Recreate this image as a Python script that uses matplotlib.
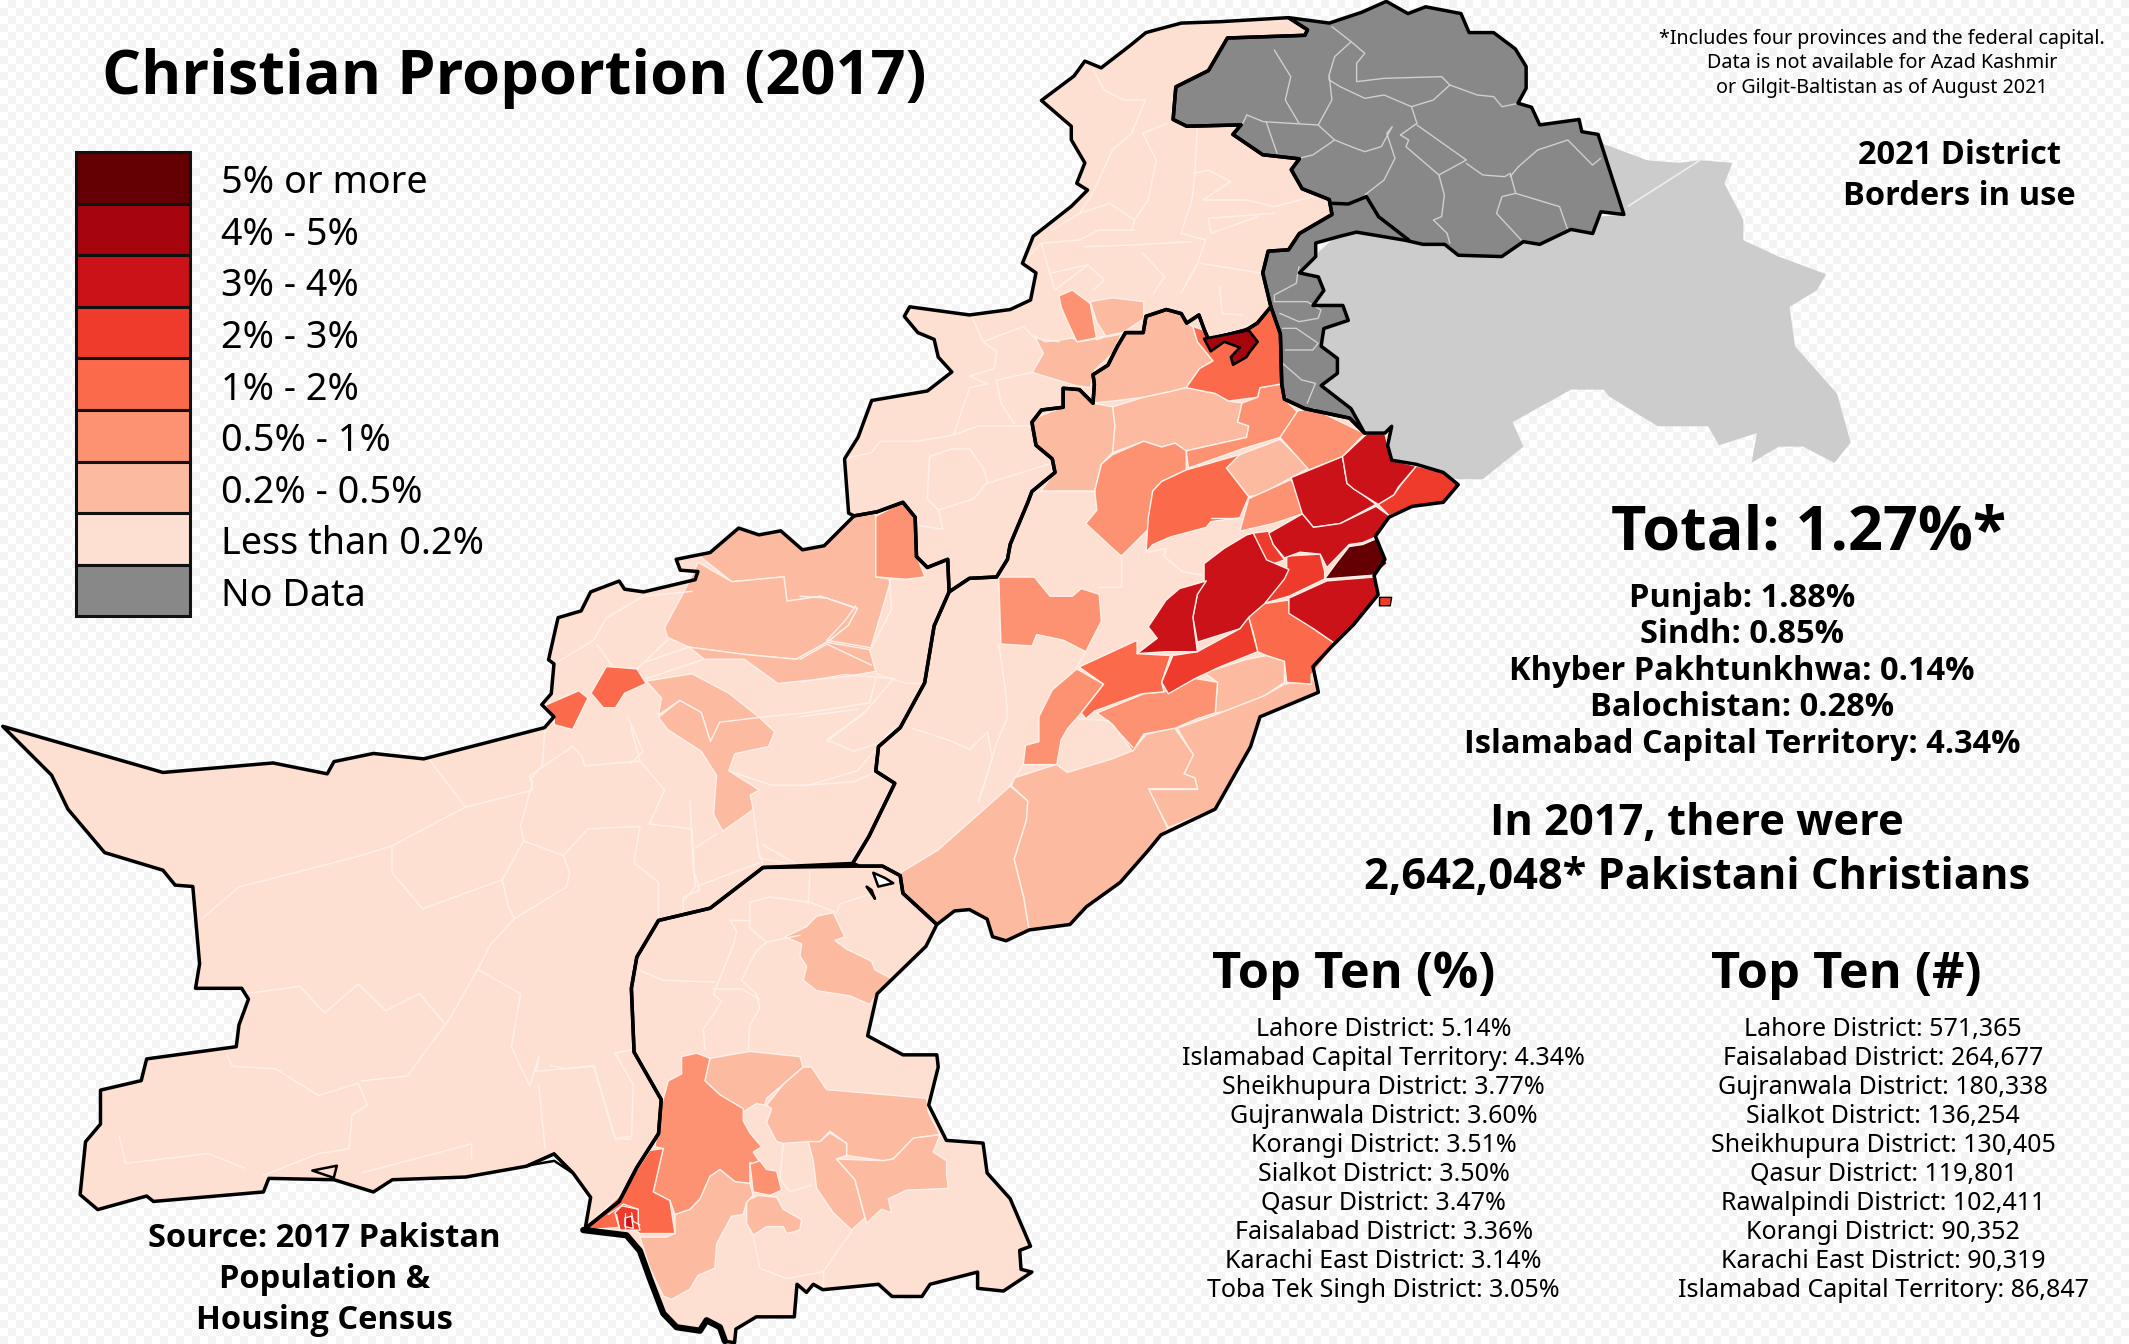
import numpy as np
import matplotlib
matplotlib.use("Agg")
import matplotlib.pyplot as plt
import matplotlib.font_manager as fm
import matplotlib.patheffects as pe
from matplotlib.patches import Polygon, Rectangle

plt.rcParams['font.family'] = ['Noto Sans', 'DejaVu Sans']

BOLD_FAMILY = None
for name in ("Noto Sans", "Open Sans", "Lato", "Roboto", "Inter"):
    if any(f.name == name and f.weight in (600, 700, 800, "bold", "semibold") for f in fm.fontManager.ttflist):
        BOLD_FAMILY = name
        break

# ---------- colours / legend ----------
legend_labels = ["5% or more", "4% - 5%", "3% - 4%", "2% - 3%", "1% - 2%", "0.5% - 1%",
                 "0.2% - 0.5%", "Less than 0.2%", "No Data"]
C5, C4, C3, C2, C1, C05, C02, C0, CN = ("#640003", "#a6050e", "#cb1218", "#ef3b2c", "#fb6a4a",
                                        "#fc9272", "#fcbba1", "#fee0d2", "#888888")
legend_colors = [C5, C4, C3, C2, C1, C05, C02, C0, CN]
CK = "#cccccc"
LINE = "#fff1ea"
GLINE = "#cfcfcf"

def z2(p): return [(589.2 + x / 3.041, 184.1 + y / 3.548) for x, y in p]
def z3(p): return [(405 + x / 4.073, 589.2 + y / 3.913) for x, y in p]
def z4(p): return [(736.5 + x / 2.475, y / 4.073) for x, y in p]
def z5(p): return [(x / 2.217, 353.5 + y / 2.801) for x, y in p]

# ---------- province outlines ----------
balochistan = [(2,535),(120,569),(201,562),(241,570),(246,561),(275,555),(312,559),(401,536),(408,528),(399,519),(406,511),(408,489),(404,486),(411,455),(428,450),(435,436),(456,428),(460,434),(474,436),(512,427),(514,421),(501,420),(498,412),(523,407),(544,389),(559,394),(575,391),(591,405),(607,402),(629,380),(646,377),(665,370),(674,381),(675,410),(683,418),(698,412),(699,436),(688,461),(681,503),(663,536),(647,550),(645,568),(659,577),(640,616),(628,636),(562,639),(523,669),(485,678),(469,705),(465,728),(467,775),(487,810),(485,835),(469,860),(456,885),(431,905),(435,882),(422,864),(408,850),(388,859),(343,867),(289,869),(275,878),(246,869),(198,868),(194,878),(113,885),(108,881),(72,891),(59,880),(63,841),(74,828),(74,803),(104,796),(108,780),(174,771),(176,755),(183,736),(178,728),(144,728),(147,710),(142,653),(129,652),(120,641),(77,628),(50,596),(38,571)]
sindh = [(562,639),(633,638),(650,638),(663,645),(665,658),(690,681),(682,697),(646,732),(639,763),(665,777),(690,777),(691,786),(684,814),(697,840),(724,842),(727,864),(744,883),(759,918),(751,921),(752,935),(760,937),(739,951),(720,949),(720,937),(685,946),(679,955),(657,955),(647,946),(606,950),(599,946),(594,952),(587,946),(585,970),(557,970),(542,979),(541,989),(534,988),(530,978),(520,972),(515,980),(498,978),(488,967),(479,942),(471,921),(461,910),(431,905),(456,885),(469,860),(485,835),(487,810),(467,775),(465,728),(469,705),(485,678),(523,669)]
punjab = [(699,436),(714,426),(734,425),(742,412),(744,401),(757,370),(760,362),(777,348),(775,338),(763,328),(760,311),(767,302),(783,300),(783,286),(795,287),(805,297),(806,283),(805,276),(816,269),(823,255),(829,245),(842,245),(844,233),(859,228),(870,231),(874,238),(883,232),(887,243),(890,250),(918,243),(926,238),(936,226),(943,246),(944,283),(946,294),(961,301),(994,308),(1005,319),(1020,319),(1025,314),(1022,328),(1025,339),(1043,342),(1063,348),(1074,357),(1063,370),(1040,373),(1023,381),(1013,395),(1020,412),(1012,424),(1015,438),(997,460),(980,477),(967,491),(971,510),(928,528),(921,550),(895,596),(855,615),(846,626),(825,650),(800,668),(788,681),(758,685),(741,693),(731,690),(727,677),(714,670),(703,671),(690,681),(665,658),(663,645),(650,638),(633,638),(628,636),(640,616),(659,577),(645,568),(647,550),(663,536),(681,503),(688,461)]
kp = [(936,226),(930,201),(934,185),(949,184),(957,172),(981,158),(979,147),(959,139),(951,125),(957,117),(930,114),(908,99),(914,92),(874,93),(864,88),(866,64),(890,52),(904,28),(961,26),(963,22),(949,13),(898,16),(870,17),(844,24),(833,33),(811,50),(799,45),(791,56),(767,74),(789,93),(789,103),(799,120),(793,135),(801,140),(789,152),(761,174),(753,194),(763,201),(759,221),(744,228),(714,232),(670,226),(666,233),(676,245),(688,250),(691,263),(701,274),(683,288),(642,295),(632,322),(622,338),(625,378),(629,380),(646,377),(665,370),(674,381),(675,410),(683,418),(698,412),(699,436),(714,426),(734,425),(742,412),(744,401),(757,370),(760,362),(777,348),(775,338),(763,328),(760,311),(767,302),(783,300),(783,286),(795,287),(805,297),(806,283),(805,276),(816,269),(823,255),(829,245),(842,245),(844,233),(859,228),(870,231),(874,238),(883,232),(887,243),(890,250),(918,243),(926,238)]
no_data = [(949,13),(979,17),(1003,9),(1021,1),(1037,10),(1050,5),(1076,10),(1082,24),(1100,24),(1116,36),(1124,49),(1124,65),(1118,76),(1128,79),(1134,92),(1163,88),(1165,97),(1177,99),(1196,158),(1179,156),(1173,172),(1157,169),(1134,180),(1122,178),(1106,189),(1074,188),(1064,180),(1048,180),(1035,177),(999,171),(987,174),(969,179),(969,189),(957,201),(971,204),(975,214),(967,225),(989,225),(993,236),(975,242),(973,255),(985,264),(985,275),(973,284),(995,301),(1005,319),(994,308),(961,301),(946,294),(944,283),(943,246),(936,226),(930,201),(934,185),(949,184),(957,172),(981,158),(979,147),(959,139),(951,125),(957,117),(930,114),(908,99),(914,92),(874,93),(864,88),(866,64),(890,52),(904,28),(961,26),(963,22)]
kashmir = [(1181,106),(1213,118),(1237,120),(1252,118),(1276,120),(1270,135),(1284,162),(1284,177),(1310,189),(1345,202),(1338,214),(1318,226),(1322,255),(1353,290),(1363,326),(1351,341),(1328,329),(1310,329),(1290,341),(1294,319),(1266,328),(1258,314),(1221,314),(1185,292),(1181,287),(1157,287),(1114,311),(1122,329),(1092,353),(1075,353),(1040,350),(1005,319),(960,300),(955,200),(1000,160),(1064,170),(1196,158),(1177,99)]
kashmir_line = [(1199,152),(1252,118)]
gb_ajk_line = z4([(605,610),(635,612),(668,590),(690,650),(745,720)])
karachi_coast = z3([(100,1240),(230,1255),(270,1300),(300,1380),(340,1480),(380,1520),(450,1530),(470,1500),(510,1520),(525,1560)])
lakes = [z3([(970,210),(985,250),(1030,240),(1005,225)]), z3([(950,250),(975,285),(965,260)])]
gwadar_lagoon = [z5([(860,1415),(905,1390),(935,1430),(905,1405)])]
ormara_island = [z5([(510,1425),(550,1415),(545,1440)])]
narowal_enclave = [z2([(1298,908),(1325,908),(1322,930),(1298,930)])]

# ---------- district classes, by share of Christians ----------
districts_5plus = [z2([(1260,770),(1290,755),(1315,820),(1285,850),(1175,860),(1200,820),(1230,775)])]
districts_4_5 = [z2([(905,232),(1005,210),(1025,240),(1005,270),(1000,280),(970,300),(965,280),(985,255),(950,240),(920,265)])]
districts_3_4 = [
    z2([(1100,595),(1215,540),(1225,610),(1290,665),(1210,715),(1150,725),(1125,690)]),
    z2([(1215,540),(1270,480),(1310,480),(1325,550),(1380,565),(1340,620),(1330,640),(1295,665),(1240,625),(1225,610)]),
    z2([(1125,690),(1150,725),(1210,715),(1290,670),(1320,695),(1290,750),(1260,765),(1230,770),(1180,830),(1165,795),(1120,790),(1085,805),(1060,770),(1050,740)]),
    z2([(1095,910),(1180,865),(1285,855),(1295,900),(1240,980),(1200,1030),(1150,990),(1095,950)]),
    z2([(1000,745),(1015,740),(1045,810),(1095,835),(1085,860),(1040,925),(1005,960),(985,990),(890,1025),(880,960),(890,900),(905,870),(905,820),(950,780)]),
    z2([(910,865),(890,900),(880,960),(890,1050),(820,1050),(755,1055),(800,1015),(780,985),(820,915),(850,885)]),
]
districts_2_3 = [
    z2([(1380,565),(1440,580),(1475,615),(1440,660),(1370,670),(1320,695),(1295,665),(1330,640),(1345,615)]),
    z2([(1015,740),(1050,735),(1060,770),(1085,810),(1050,825),(1020,760)]),
    z2([(835,1060),(890,1050),(985,990),(1005,960),(1025,1050),(940,1090),(885,1120),(825,1160),(810,1130)]),
    z2([(1090,800),(1165,795),(1175,840),(1175,860),(1095,905),(1035,925),(1090,840)]),
    z3([(195,1190),(220,1165),(265,1180),(265,1220),(270,1240),(210,1240)]),
]
districts_1_2 = [
    z2([(880,200),(905,210),(915,235),(1025,190),(1055,155),(1075,220),(1080,350),(1030,360),(1025,385),(960,395),(930,375),(865,360),(895,310),(925,290),(890,240)]),
    z2([(865,575),(985,535),(955,570),(1005,645),(985,700),(920,710),(910,725),(830,750),(790,770),(775,790),(780,700),(790,630),(810,605)]),
    z2([(1035,925),(1095,915),(1100,950),(1150,990),(1200,1030),(1145,1110),(1145,1135),(1090,1130),(1085,1075),(1045,1060),(1025,1050),(1015,1000),(1005,960)]),
    z2([(755,1020),(755,1055),(830,1060),(810,1130),(815,1155),(765,1160),(660,1205),(640,1225),(630,1210),(680,1135),(625,1090)]),
    z5([(890,465),(945,435),(960,450),(935,515),(905,505),(905,490)]),
    z5([(990,385),(1040,390),(1055,420),(1020,440),(1005,470),(985,470),(965,440)]),
    z3([(340,1005),(310,1130),(360,1155),(375,1250),(270,1250),(240,1230),(100,1240),(210,1140),(300,1010)]),
]
districts_05_1 = [
    z2([(1030,360),(1080,350),(1090,395),(1115,425),(1075,490),(990,520),(870,570),(865,525),(1000,490),(1005,460),(980,450),(990,400),(1025,385)]),
    z2([(700,535),(770,500),(810,515),(840,505),(865,525),(865,575),(810,605),(790,630),(780,730),(720,800),(700,780),(640,715),(665,680),(660,630),(675,560)]),
    z2([(1075,490),(1115,420),(1150,415),(1265,480),(1215,540),(1140,575)]),
    z2([(1005,650),(1100,600),(1125,660),(1125,690),(1060,715),(985,735)]),
    z2([(445,855),(525,855),(560,905),(610,905),(630,885),(670,900),(675,970),(640,1050),(590,1020),(530,1005),(520,1035),(450,1030)]),
    z2([(620,1095),(680,1135),(630,1210),(600,1250),(585,1280),(575,1345),(500,1345),(505,1295),(535,1285),(535,1220),(565,1150)]),
    z2([(665,1210),(770,1160),(815,1155),(885,1120),(935,1130),(930,1210),(890,1225),(840,1250),(770,1265),(745,1310),(700,1240)]),
    z2([(580,120),(610,105),(650,140),(665,235),(685,225),(620,240),(600,190),(585,150)]),
    z5([(1430,75),(1475,45),(1495,85),(1495,150),(1510,200),(1480,205),(1430,200)]),
    z3([(395,740),(440,730),(480,745),(465,810),(510,850),(580,890),(580,925),(600,960),(635,1000),(610,1015),(640,1060),(600,1045),(600,1105),(555,1100),(510,1065),(480,1085),(450,1150),(420,1180),(375,1195),(360,1155),(310,1130),(340,1005),(315,1000),(335,880),(355,810),(395,790)]),
    z3([(600,1050),(630,1040),(650,1065),(680,1070),(695,1125),(660,1140),(610,1130)]),
]
districts_02_05 = [
    z2([(655,400),(660,350),(655,325),(690,300),(710,250),(730,215),(770,215),(775,175),(820,155),(855,165),(865,190),(880,200),(890,240),(925,290),(895,310),(865,360),(830,370),(770,385),(700,395)]),
    z2([(700,410),(770,385),(830,370),(865,360),(930,375),(960,395),(990,400),(980,450),(1005,460),(1000,490),(865,525),(840,505),(810,515),(770,500),(700,530),(705,460)]),
    z2([(525,440),(590,410),(590,360),(625,365),(655,400),(700,410),(705,460),(700,530),(675,560),(660,630),(600,630),(540,630),(570,580),(565,545),(530,510),(520,450)]),
    z2([(955,570),(985,535),(1075,495),(1140,570),(1100,595),(1030,640),(1005,645)]),
    z2([(905,1105),(1000,1070),(1045,1060),(1085,1075),(1085,1130),(1040,1165),(960,1205),(930,1210),(935,1130)]),
    z2([(1085,1135),(1150,1120),(1160,1155),(1030,1220),(1010,1300),(930,1460),(825,1510),(780,1410),(890,1410),(885,1380),(860,1370),(880,1320),(845,1250),(930,1215),(1040,1165)]),
    [(744,579),(691,626),(663,643),(665,658),(690,681),(703,671),(714,670),(727,677),(731,690),(741,693),(758,685),(754,661),(747,633),(756,604),(757,590)],
    [(757,590),(745,579),(747,573),(778,563),(786,569),(819,559),(834,553),(844,541),(865,536),(879,556),(872,570),(880,573),(882,581),(846,581),(860,610),(846,626),(825,650),(800,668),(788,681),(758,685),(754,661),(747,633),(756,604)],
    z2([(650,135),(700,125),(770,135),(770,180),(725,215),(685,225),(665,190)]),
    z2([(525,225),(550,240),(585,235),(610,230),(625,240),(720,220),(700,270),(660,315),(650,360),(620,355),(590,345),(520,320),(545,270)]),
    z5([(1140,155),(1160,150),(1205,100),(1240,115),(1275,105),(1310,145),(1345,135),(1395,75),(1430,70),(1430,200),(1455,205),(1420,355),(1350,335),(1385,300),(1400,265),(1340,240),(1285,250),(1280,200),(1195,210)]),
    z5([(1115,235),(1140,170),(1195,210),(1280,200),(1285,250),(1340,240),(1400,265),(1385,300),(1350,335),(1300,370),(1215,360),(1125,345),(1090,325),(1085,305)]),
    z5([(1125,345),(1215,360),(1300,370),(1350,335),(1420,350),(1430,395),(1385,405),(1270,420),(1215,370),(1150,370)]),
    z5([(1055,415),(1130,400),(1190,440),(1240,490),(1175,505),(1160,540),(1145,480),(1110,455),(1075,485),(1080,450)]),
    z5([(1075,490),(1110,455),(1145,480),(1160,540),(1175,500),(1240,490),(1265,520),(1255,550),(1200,565),(1190,600),(1240,640),(1225,650),(1230,680),(1180,725),(1165,690),(1170,610),(1145,560),(1090,515)]),
    z3([(705,395),(770,365),(800,335),(850,325),(885,395),(855,405),(890,430),(965,465),(975,490),(1025,515),(980,560),(960,590),(900,565),(800,550),(760,520),(770,480),(750,450),(755,415)]),
    z3([(480,745),(600,725),(750,740),(760,770),(700,820),(650,860),(645,880),(620,875),(580,900),(510,850),(465,810)]),
    z3([(650,880),(700,820),(760,770),(785,770),(830,835),(1130,860),(1135,900),(1170,965),(1090,975),(1030,1035),(1000,1040),(890,1025),(890,990),(840,955),(810,985),(775,985),(700,990),(680,985),(650,930),(665,890)]),
    z3([(775,985),(810,985),(840,960),(890,990),(890,1025),(860,1035),(915,1095),(945,1205),(905,1240),(850,1190),(800,1120),(790,1040)]),
    z3([(860,1035),(1000,1040),(1030,1035),(1090,975),(1170,965),(1150,1015),(1190,1040),(1190,1080),(1195,1120),(1070,1125),(1015,1150),(1025,1190),(995,1180),(950,1220),(915,1095)]),
    z3([(590,1155),(625,1140),(680,1145),(700,1180),(755,1210),(750,1240),(710,1250),(700,1230),(650,1230),(610,1255),(590,1220)]),
    z3([(375,1195),(420,1180),(450,1150),(480,1085),(510,1065),(555,1100),(600,1105),(610,1140),(590,1160),(580,1195),(545,1200),(500,1280),(495,1350),(445,1370),(420,1410),(365,1440),(340,1430),(300,1350),(270,1260),(350,1260),(375,1250)]),
]
karachi_core = [z3([(225,1205),(245,1200),(250,1235),(225,1230)])]
class_polys = [(districts_02_05, C02), (districts_05_1, C05), (districts_1_2, C1), (districts_2_3, C2),
               (districts_3_4, C3), (districts_5plus, C5), (karachi_core, C3)]

# ---------- inner district borders ----------
lines_light = [z2(l) for l in [
    [(530,630),(660,630)],
    [(720,800),(720,880),(670,880)],
    [(640,1050),(620,1090)],
    [(445,1030),(460,1150),(465,1220),(440,1290),(420,1370),(400,1440)],
    [(780,790),(820,780),(815,800),(855,840),(900,850)],
    [(920,700),(985,700)],
    [(100,545),(160,530),(180,500),(260,500),(340,485),(400,460),(515,460)],
    [(340,520),(380,520),(410,570),(420,605),(390,650),(310,680)],
    [(420,610),(570,555)],
    [(440,340),(520,320)],
    [(440,340),(450,400),(480,455)],
    [(345,480),(380,360),(420,350)],
    [(385,175),(410,240),(440,265),(435,310),(380,330),(420,350)],
    [(410,240),(500,200),(525,230),(580,240)],
    [(340,520),(290,540),(285,650),(310,680),(320,730),(265,720)],
    [(620,1225),(690,1230),(745,1300)],
    [(470,1400),(500,1345)],
    [(200,860),(205,940),(160,1040),(60,1020),(100,970),(125,930)],
    [(0,905),(60,910),(120,935)],
    [(0,1070),(60,1030),(160,1085)],
    [(0,1130),(100,1110),(210,1120),(140,1215),(60,1280),(120,1310),(175,1290)],
    [(250,1250),(330,1280),(380,1305),(420,1260),(430,1330),(400,1440)],
    [(0,1220),(130,1200)],
    [(0,1400),(120,1390),(180,1360)],
]] + [z4(l) for l in [
    [(170,210),(190,270),(225,300),(265,300),(240,400),(205,450),(180,540),(165,590),(145,640),(95,690)],
    [(305,370),(260,400),(285,480),(270,600),(245,660),(240,690)],
    [(360,380),(355,520),(350,600),(330,700),(375,720),(360,790),(330,880)],
    [(145,640),(200,610),(245,660)],
    [(40,790),(75,730),(145,720),(180,690),(245,690)],
    [(155,740),(240,735),(350,725)],
    [(75,730),(100,870),(160,795),(190,840),(170,870)],
    [(260,760),(300,830),(280,880)],
    [(355,520),(380,510),(420,545),(370,600),(450,600),(500,620),(570,590)],
    [(500,640),(380,655),(385,700),(470,650)],
    [(365,790),(480,820)],
    [(400,860),(405,940),(440,945)],
    [(90,820),(160,795)],
]] + [z5(l) for l in [
    [(700,575),(760,675),(870,640),(865,610),(935,550),(950,570),(955,590),(1045,580),(1030,510)],
    [(890,515),(885,590),(865,620)],
    [(330,905),(390,840),(590,775),(640,755),(760,675)],
    [(640,755),(640,810),(690,885),(820,825),(855,745),(920,775),(960,720),(1045,715)],
    [(855,745),(850,715),(870,620)],
    [(820,825),(830,880),(840,905),(925,840),(930,810),(920,775)],
    [(1045,715),(1035,790),(1075,830),(1075,905)],
    [(1085,640),(1060,710),(1130,720),(1135,840)],
    [(840,905),(800,960),(780,1010),(735,1110),(665,1230),(590,1240)],
    [(780,1010),(850,1060),(835,1170),(865,1250),(880,1190),(875,1220),(970,1210),(1005,1360),(1030,1360)],
    [(400,1060),(490,1045),(530,1100),(585,1040),(630,1095),(685,1060),(725,1120)],
    [(370,1185),(380,1210),(450,1215),(520,1270),(585,1245),(600,1290),(575,1310),(570,1380),(520,1390),(430,1435)],
    [(195,1355),(205,1410),(340,1390),(400,1420)],
    [(590,1430),(770,1370),(770,1400)],
    [(880,1250),(890,1380)],
    [(905,380),(970,330),(990,285),(1050,240),(1130,230)],
    [(975,340),(1000,385)],
    [(1040,390),(1090,330)],
    [(1055,375),(1125,345)],
    [(1055,410),(1150,370)],
    [(1430,400),(1480,420),(1510,420)],
    [(1240,490),(1320,480),(1420,460),(1430,410)],
    [(1350,540),(1420,470)],
    [(1190,600),(1260,630),(1320,630),(1400,600),(1460,510)],
    [(1230,680),(1240,780),(1320,800)],
    [(1045,580),(1085,640)],
    [(1025,490),(1050,560),(1030,585)],
    [(1135,760),(1170,730)],
    [(1115,870),(1135,840),(1240,790)],
]] + [z3(l) for l in [
    [(780,205),(775,300)],
    [(600,295),(600,370),(650,410),(620,435),(600,470),(575,520),(620,560),(630,600),(600,650),(595,720)],
    [(600,295),(660,280),(780,295),(860,325),(870,300),(950,275)],
    [(540,345),(600,345)],
    [(540,345),(560,380),(550,420),(520,490),(490,560),(515,580),(490,620),(460,660),(465,720)],
    [(265,490),(340,520),(495,525)],
    [(490,545),(575,545),(630,575)],
    [(650,410),(750,390)],
    [(700,990),(690,1090),(720,1130),(785,1110)],
    [(610,1260),(630,1350),(710,1380),(820,1360),(870,1290),(905,1245)],
    [(820,1360),(820,1400)],
    [(130,765),(195,975),(245,970),(250,820),(195,730),(245,720)],
    [(0,765),(50,775),(130,765)],
    [(420,0),(430,200),(450,260),(400,280),(400,320)],
    [(640,130),(740,185)],
    [(620,130),(640,190)],
]]
karachi_lines = [z3(l) for l in [
    [(175,1195),(215,1170),(265,1180)],
    [(200,1195),(210,1240)],
    [(225,1190),(225,1240)],
    [(245,1190),(250,1215),(270,1225)],
]]
lines_gray = [z4(l) for l in [
    [(500,150),(530,230),(520,300),(545,370)],
    [(605,80),(640,125),(610,170),(600,225),(600,240),(620,260),(665,295),(700,285),(750,320),(760,370),(730,405)],
    [(640,125),(665,160),(650,190),(650,245),(700,235),(805,230),(820,255),(790,300),(750,320)],
    [(820,255),(870,285),(900,290),(915,320),(945,310)],
    [(600,225),(605,300),(580,375),(610,420),(640,440),(665,455),(695,440),(715,380),(705,400),(720,475),(700,540),(665,585)],
    [(450,345),(480,365),(580,375)],
    [(450,345),(440,378)],
    [(485,365),(505,460)],
    [(610,420),(570,465),(545,475)],
    [(760,375),(850,480),(800,525),(740,440),(745,420),(730,405)],
    [(850,490),(880,525),(920,530),(930,520),(940,580),(915,590),(905,640),(950,720)],
    [(800,525),(810,585),(805,650),(790,660),(815,700),(820,730)],
    [(945,500),(980,450),(1035,420),(1080,495),(1095,475)],
    [(945,500),(930,530)],
    [(940,580),(1020,620),(1035,690)],
    [(545,800),(540,850),(500,885),(500,905),(560,905),(585,930),(580,955),(545,965),(510,940)],
    [(515,985),(540,985),(580,1030),(570,1050),(520,1050)],
    [(515,1090),(550,1140),(575,1150),(560,1210)],
]]

# ---------- text ----------
title = "Christian Proportion (2017)"
note_lines = ["*Includes four provinces and the federal capital.", "Data is not available for Azad Kashmir", "or Gilgit-Baltistan as of August 2021"]
border_lines = ["2021 District", "Borders in use"]
total = "Total: 1.27%*"
province_lines = ["Punjab: 1.88%", "Sindh: 0.85%", "Khyber Pakhtunkhwa: 0.14%", "Balochistan: 0.28%", "Islamabad Capital Territory: 4.34%"]
count_lines = ["In 2017, there were", "2,642,048* Pakistani Christians"]
source_lines = ["Source: 2017 Pakistan", "Population &", "Housing Census"]
top_pct = ["Lahore District: 5.14%", "Islamabad Capital Territory: 4.34%", "Sheikhupura District: 3.77%", "Gujranwala District: 3.60%", "Korangi District: 3.51%", "Sialkot District: 3.50%", "Qasur District: 3.47%", "Faisalabad District: 3.36%", "Karachi East District: 3.14%", "Toba Tek Singh District: 3.05%"]
top_num = ["Lahore District: 571,365", "Faisalabad District: 264,677", "Gujranwala District: 180,338", "Sialkot District: 136,254", "Sheikhupura District: 130,405", "Qasur District: 119,801", "Rawalpindi District: 102,411", "Korangi District: 90,352", "Karachi East District: 90,319", "Islamabad Capital Territory: 86,847"]

# ---------- figure ----------
fig = plt.figure(figsize=(21.29, 13.44), dpi=100)
ax = fig.add_axes([0, 0, 1, 1])
ax.set_xlim(0, 1568); ax.set_ylim(990, 0); ax.axis("off")

cells = np.indices((168, 266)).sum(axis=0) % 2
ax.imshow(cells, cmap=matplotlib.colors.ListedColormap(["#ffffff", "#f4f4f4"]), extent=(0, 1568, 990, 0),
          aspect="auto", interpolation="nearest", zorder=0)

def poly(p, fc, ec="none", lw=0, z=2):
    ax.add_patch(Polygon(p, closed=True, facecolor=fc, edgecolor=ec, linewidth=lw, joinstyle="round", zorder=z))

poly(kashmir, CK)
for p in (balochistan, sindh, punjab, kp):
    poly(p, C0)
poly(no_data, CN)
for group, col in class_polys:
    for p in group:
        poly(p, col, LINE, 1.0, 3)

def lines(group, col, lw, z):
    for l in group:
        xs, ys = zip(*l)
        ax.plot(xs, ys, color=col, lw=lw, zorder=z, solid_joinstyle="round", solid_capstyle="round")

lines(lines_light, LINE, 1.0, 3.5)
lines(lines_gray, GLINE, 1.0, 3.5)
lines(karachi_lines, LINE, 0.9, 4)
lines([kashmir_line], "#eeeeee", 1.2, 2.5)

for p in (balochistan, sindh, punjab, kp, no_data):
    poly(p, "none", "#000000", 2.5, 5)
for p in districts_4_5:
    poly(p, C4, "#000000", 1.9, 5.5)
for p in lakes:
    poly(p, "#ffffff", "#000000", 1.8, 5.5)
for p in gwadar_lagoon + ormara_island:
    poly(p, "none", "#000000", 1.8, 5.5)
for p in narowal_enclave:
    poly(p, C2, "#000000", 1.0, 5.5)
lines([gb_ajk_line], "#000000", 2.5, 5)
lines([karachi_coast], "#000000", 4.5, 5)

# legend
for i, (lab, col) in enumerate(zip(legend_labels, legend_colors)):
    y0 = 112 + i * 38.0
    ax.add_patch(Rectangle((56, y0), 84, 38.0, facecolor=col, edgecolor="#111111", linewidth=2.2, zorder=6))
    ax.text(163, y0 + 23, lab, fontsize=27.2, va="center", ha="left", color="#000000", zorder=7)

def t(x, y, s, size, bold=False, dy=2.5):
    kw = {}
    if bold:
        if BOLD_FAMILY:
            kw = dict(fontweight="bold", family=[BOLD_FAMILY, "DejaVu Sans"])
        else:
            kw = dict(path_effects=[pe.withStroke(linewidth=size * 0.06, foreground="#000000")])
    ax.text(x, y + dy, s, fontsize=size, ha="center", va="center", color="#000000", zorder=7, **kw)

t(379, 55, title, 44.2, True)
for y, s in zip((27, 45, 63), note_lines):
    t(1386, y, s, 14.2, dy=1.5)
for y, s in zip((112, 142), border_lines):
    t(1443, y, s, 23.5, True)
t(1332, 391, total, 44, True)
for y, s in zip((438, 465, 492, 519, 546), province_lines):
    t(1283, y, s, 23.5, True)
for y, s in zip((604, 644), count_lines):
    t(1250, y, s, 31.2, True)
for y, s in zip((910, 940, 970), source_lines):
    t(239, y, s, 23.5, True)
t(997, 716, "Top Ten (%)", 36.4, True)
t(1360, 716, "Top Ten (#)", 36.4, True)
for i, (a, b) in enumerate(zip(top_pct, top_num)):
    y = 757 + i * 21.35
    t(1019, y, a, 18, dy=1.5)
    t(1387, y, b, 18, dy=1.5)

fig.savefig("out.png", dpi=100)
